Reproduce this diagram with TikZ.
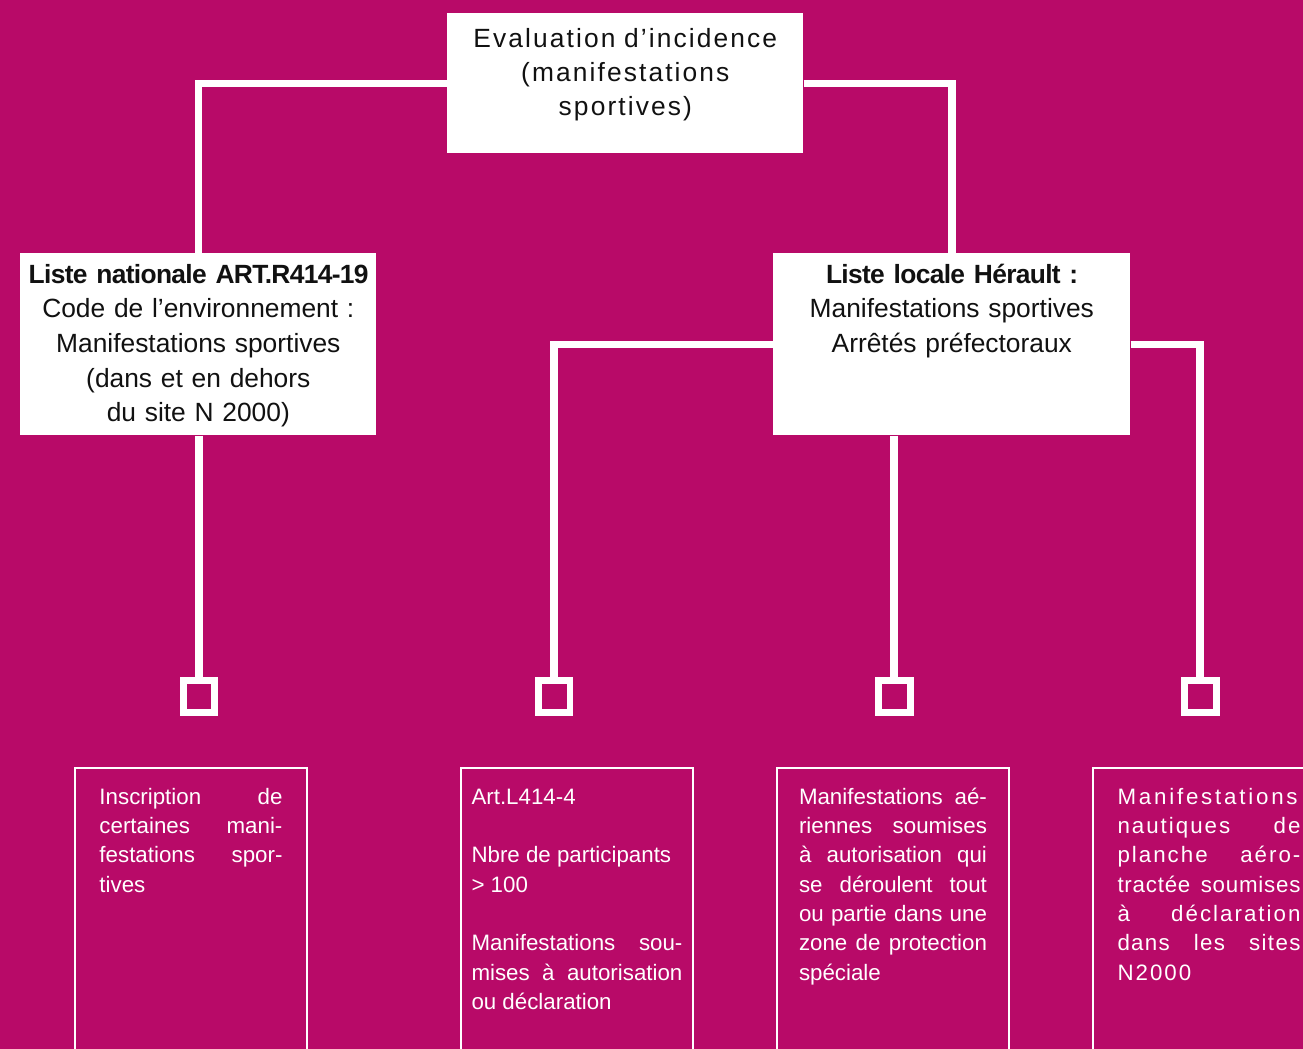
\documentclass[tikz,border=0pt]{standalone}
\usepackage{fontspec}
\setmainfont{Liberation Sans}
\definecolor{plum}{RGB}{184,10,104}
\definecolor{ink}{RGB}{17,17,17}
\hyphenpenalty=10000
\tolerance=9999

\begin{document}
\begin{tikzpicture}[
    x=0.02cm, y=-0.02cm,
    font=\fontsize{15}{19.7}\selectfont,
    headbox/.style={fill=white, text=ink, anchor=north west, inner sep=0pt, align=center},
    link/.style={draw=white, line width=0.15cm},
    tick/.style={draw=white, line width=0.14cm, minimum size=0.64cm, inner sep=0pt},
    leaf/.style={draw=white, line width=0.04cm, anchor=north west, inner sep=0pt,
                 minimum width=4.64cm, text height=0.72cm, text depth=6cm,
                 text=white, align=justify, font=\fontsize{12.7}{16.7}\selectfont}
]

% Page
\useasboundingbox (0,0) rectangle (1303,1049);
\clip (0,0) rectangle (1303,1049);
\fill[plum] (0,0) rectangle (1303,1049);

% Upper boxes
\node[headbox, text width=7.12cm, text height=0.68cm, text depth=2.12cm,
      font=\fontsize{15}{19.4}\selectfont\addfontfeature{LetterSpace=8}] (eval) at (447,13)
    {Evaluation d’incidence\\(manifestations\\sportives)};
\node[headbox, text width=7.12cm, text height=0.6cm, text depth=3.04cm] (natl) at (20,253)
    {\textbf{\addfontfeature{LetterSpace=-2.5}Liste nationale ART.R414-19}\\Code de l’environnement :\\Manifestations sportives\\(dans et en dehors\\du site N 2000)};
\node[headbox, text width=7.14cm, text height=0.6cm, text depth=3.04cm] (locl) at (773,253)
    {\textbf{\addfontfeature{LetterSpace=-2.5}Liste locale Hérault :}\\Manifestations sportives\\Arrêtés préfectoraux};

% Junction squares
\node[tick] (sq1) at (199,696) {};
\node[tick] (sq2) at (554,696) {};
\node[tick] (sq3) at (894,696) {};
\node[tick] (sq4) at (1200,696) {};

% Links
\draw[link] (eval.west) -| (natl.north);
\draw[link] (eval.east) -| (locl.north);
\draw[link] (sq1 |- natl.south) -- (sq1.north);
\draw[link] (locl.west) -| (sq2.north);
\draw[link] (sq3 |- locl.south) -- (sq3.north);
\draw[link] (locl.east) -| (sq4.north);

% Lower boxes
\node[leaf, text width=3.66cm] (inscr) at (74,767)
    {Inscription de\linebreak certaines mani-\linebreak festations spor-\linebreak tives};
\node[leaf, text width=4.22cm] (artl) at (460,767)
    {Art.L414-4\newline\mbox{}\newline Nbre de participants\newline > 100\newline\mbox{}\newline Manifestations sou-\linebreak mises à autorisation\linebreak ou déclaration};
\node[leaf, text width=3.76cm] (aeri) at (776,767)
    {Manifestations aé-\linebreak riennes soumises\linebreak à autorisation qui\linebreak se déroulent tout\linebreak ou partie dans une\linebreak zone de protection\linebreak spéciale};
\node[leaf, text width=3.66cm, font=\fontsize{12.7}{16.7}\selectfont\addfontfeature{LetterSpace=9}] (naut) at (1092,767)
    {{\addfontfeature{LetterSpace=12.5}Manifestations}\linebreak nautiques de\linebreak planche aéro-\linebreak {\addfontfeature{LetterSpace=3.5}tractée soumises}\linebreak à déclaration\linebreak {\addfontfeature{LetterSpace=6}dans les sites}\linebreak N2000};

\end{tikzpicture}
\end{document}
